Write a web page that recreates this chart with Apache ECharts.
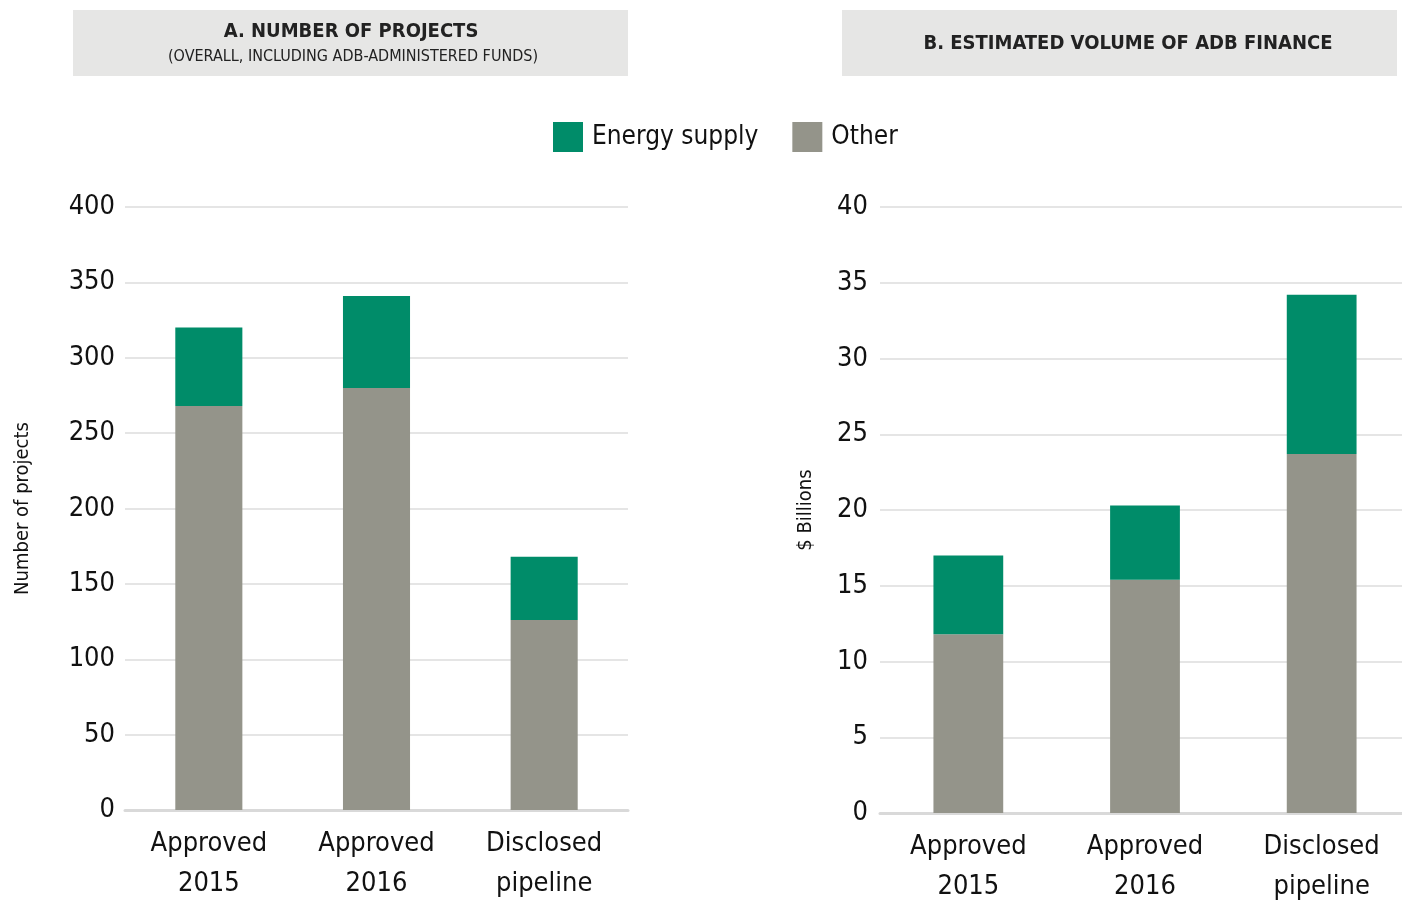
<!DOCTYPE html>
<html><head><meta charset="utf-8">
<script src="https://cdn.jsdelivr.net/npm/echarts@6/dist/echarts.min.js"></script>
<style>html,body{margin:0;padding:0;background:#fff;overflow:hidden}#c{width:1402px;height:902px}</style>
</head><body><div id="c"></div>
<script>
const categories = ['Approved\n2015', 'Approved\n2016', 'Disclosed\npipeline'];
const projectsOther = [268, 280, 126];
const projectsEnergy = [52, 61, 42];
const financeOther = [11.8, 15.4, 23.7];
const financeEnergy = [5.2, 4.9, 10.5];
const projectsTicks = {min: 0, max: 400, interval: 50};
const financeTicks = {min: 0, max: 40, interval: 5};

const FONT = '"DejaVu Sans Condensed","Liberation Sans Narrow",sans-serif';
const GREEN = '#008c69', GRAY = '#94948a';
const chart = echarts.init(document.getElementById('c'));

function xAx(gi){return {type:'category', gridIndex:gi, data:categories,
  axisTick:{show:false}, axisLine:{lineStyle:{color:'#d9d9d9', width:3}},
  axisLabel:{interval:0, fontFamily:FONT, fontSize:27, color:'#111', margin:14, lineHeight:40}};}
function yAx(gi, t, name, gap, margin){return {type:'value', gridIndex:gi, min:t.min, max:t.max, interval:t.interval,
  name:name, nameLocation:'middle', nameRotate:90, nameGap:gap,
  nameTextStyle:{fontFamily:FONT, fontSize:20, color:'#111'},
  axisLine:{show:false}, axisTick:{show:false},
  splitLine:{lineStyle:{color:'#dcdcdc', width:1.5}},
  axisLabel:{fontFamily:FONT, fontSize:27, color:'#111', margin:margin}};}

chart.setOption({
  animation:false,
  graphic:[
    {type:'rect', shape:{x:73,y:10,width:555,height:66}, style:{fill:'#e6e6e5'}},
    {type:'text', x:351, y:32, style:{text:'A. NUMBER OF PROJECTS', font:'bold 20px '+FONT, fill:'#222', align:'center', verticalAlign:'middle'}},
    {type:'text', x:353, y:57, style:{text:'(OVERALL, INCLUDING ADB-ADMINISTERED FUNDS)', font:'16px '+FONT, fill:'#222', align:'center', verticalAlign:'middle'}},
    {type:'rect', shape:{x:842,y:10,width:555,height:66}, style:{fill:'#e6e6e5'}},
    {type:'text', x:1128, y:44, style:{text:'B. ESTIMATED VOLUME OF ADB FINANCE', font:'bold 20px '+FONT, fill:'#222', align:'center', verticalAlign:'middle'}}
  ],
  legend:{data:['Energy supply','Other'], left:548, top:117, itemWidth:30, itemHeight:30, itemGap:34,
    icon:'rect', textStyle:{fontFamily:FONT, fontSize:26, color:'#111', padding:[0,0,0,4]}},
  grid:[
    {left:125, right:774, top:207, bottom:92, outerBoundsMode:'none', containLabel:false},
    {left:880, right:-8, top:207, bottom:89, outerBoundsMode:'none', containLabel:false}
  ],
  xAxis:[xAx(0), xAx(1)],
  yAxis:[yAx(0, projectsTicks, 'Number of projects', 92, 10), yAx(1, financeTicks, '$ Billions', 64, 12)],
  series:[
    {name:'Other', type:'bar', stack:'a', xAxisIndex:0, yAxisIndex:0, data:projectsOther, barWidth:'40%', itemStyle:{color:GRAY}},
    {name:'Energy supply', type:'bar', stack:'a', xAxisIndex:0, yAxisIndex:0, data:projectsEnergy, barWidth:'40%', itemStyle:{color:GREEN}},
    {name:'Other', type:'bar', stack:'b', xAxisIndex:1, yAxisIndex:1, data:financeOther, barWidth:'39.5%', itemStyle:{color:GRAY}},
    {name:'Energy supply', type:'bar', stack:'b', xAxisIndex:1, yAxisIndex:1, data:financeEnergy, barWidth:'39.5%', itemStyle:{color:GREEN}}
  ]
});
</script></body></html>
